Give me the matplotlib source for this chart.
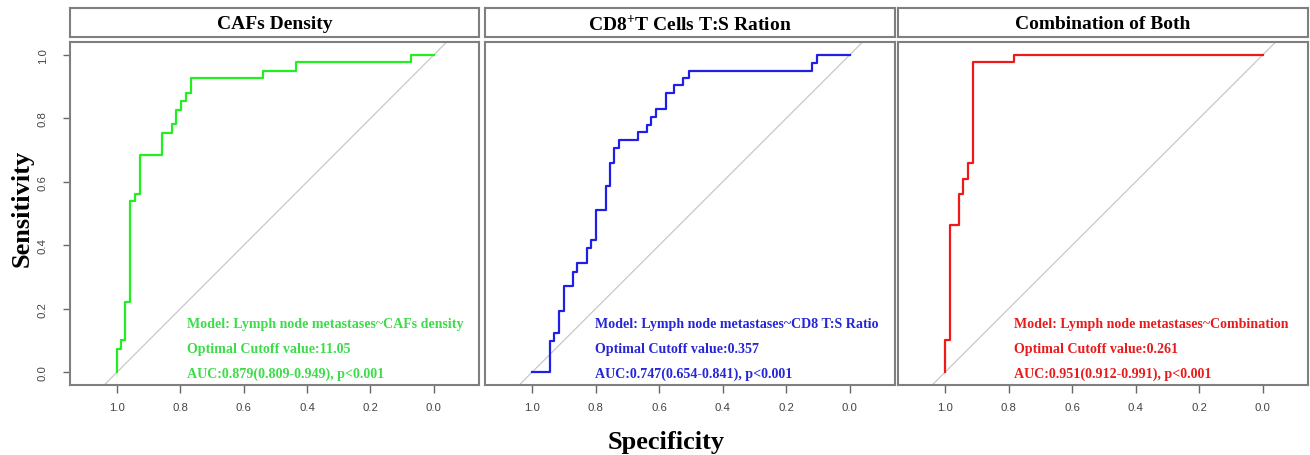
import numpy as np
import matplotlib
matplotlib.use('Agg')
import matplotlib.pyplot as plt

plt.rcParams['mathtext.fontset'] = 'custom'
plt.rcParams['mathtext.rm'] = 'Liberation Serif'
plt.rcParams['mathtext.bf'] = 'Liberation Serif:bold'

# ROC curves (specificity, sensitivity), step corners
caf_spec = [1.0, 0.988, 0.974, 0.96, 0.944, 0.928, 0.859, 0.828, 0.814, 0.799,
            0.784, 0.768, 0.538, 0.436, 0.073, 0.0]
caf_sens = [0.0, 0.073, 0.10, 0.22, 0.538, 0.562, 0.685, 0.755, 0.781, 0.828,
            0.855, 0.879, 0.926, 0.95, 0.977, 1.0]

cd8_spec = [1.0, 0.945, 0.93, 0.916, 0.901, 0.873, 0.858, 0.828, 0.814, 0.80,
            0.769, 0.756, 0.741, 0.727, 0.668, 0.64, 0.625, 0.611, 0.58, 0.553,
            0.524, 0.507, 0.118, 0.103, 0.0]
cd8_sens = [0.0, 0.0, 0.098, 0.124, 0.194, 0.27, 0.317, 0.343, 0.39, 0.416,
            0.512, 0.587, 0.66, 0.707, 0.733, 0.756, 0.78, 0.805, 0.829, 0.879,
            0.905, 0.928, 0.95, 0.976, 1.0]

comb_spec = [1.0, 0.986, 0.958, 0.944, 0.929, 0.914, 0.785, 0.0]
comb_sens = [0.0, 0.10, 0.465, 0.562, 0.61, 0.66, 0.977, 1.0]

titles = ['CAFs Density', r'CD8$^{\mathbf{+}}$T Cells T:S Ration', 'Combination of Both']
models = ['Model: Lymph node metastases~CAFs density',
          'Model: Lymph node metastases~CD8 T:S Ratio',
          'Model: Lymph node metastases~Combination']
cutoffs = ['Optimal Cutoff value:11.05', 'Optimal Cutoff value:0.357',
           'Optimal Cutoff value:0.261']
aucs = ['AUC:0.879(0.809-0.949), p<0.001', 'AUC:0.747(0.654-0.841), p<0.001',
        'AUC:0.951(0.912-0.991), p<0.001']
line_colors = ['#22ee22', '#1f1fe6', '#ee1a1a']
text_colors = ['#3ddc4a', '#2626d6', '#e81c1c']
text_x = [0.778, 0.803, 0.783]

curves = [(caf_spec, caf_sens), (cd8_spec, cd8_sens), (comb_spec, comb_sens)]

W, H = 1310, 456
fig = plt.figure(figsize=(W / 100, H / 100), dpi=100, facecolor='white')

panel_x = [(70, 479), (485, 895), (898, 1308)]
ax_top, ax_bot = 43, 386
box_top, box_bot = 9, 38
spine_col = '#7f7f7f'

for k, (x0, x1) in enumerate(panel_x):
    ax = fig.add_axes([x0 / W, 1 - ax_bot / H, (x1 - x0) / W, (ax_bot - ax_top) / H])
    spec, sens = curves[k]
    ax.axline((1, 0), (0, 1), color='#c8c8c8', lw=0.9, zorder=1)
    ax.plot(spec, sens, drawstyle='steps-pre', color=line_colors[k], lw=1.6, zorder=3)
    ax.set_xlim(1.149, -0.143)
    ax.set_ylim(-0.041, 1.041)
    ax.set_xticks(np.arange(0, 1.01, 0.2))
    ax.set_xticklabels(['%.1f' % v for v in np.arange(0, 1.01, 0.2)],
                       family='Liberation Sans', fontsize=8.2, color='#444444')
    ax.tick_params(axis='x', length=6, width=1, color='#666666', pad=6)
    if k == 0:
        ax.set_yticks(np.arange(0, 1.01, 0.2))
        ax.set_yticklabels(['%.1f' % v for v in np.arange(0, 1.01, 0.2)],
                           family='Liberation Sans', fontsize=8.2, color='#444444',
                           rotation=90, va='center')
        ax.tick_params(axis='y', length=5, width=1, color='#666666', pad=11)
    else:
        ax.set_yticks([])
    for sp in ax.spines.values():
        sp.set_color(spine_col)
        sp.set_linewidth(1.5)

    for txt, yy in zip([models[k], cutoffs[k], aucs[k]], [0.142, 0.063, -0.016]):
        ax.text(text_x[k], yy, txt, color=text_colors[k], family='Liberation Serif',
                weight='bold', fontsize=10.1, ha='left', va='baseline', zorder=4)

    tb = fig.add_axes([x0 / W, 1 - box_bot / H, (x1 - x0) / W, (box_bot - box_top) / H])
    tb.set_xticks([])
    tb.set_yticks([])
    for sp in tb.spines.values():
        sp.set_color(spine_col)
        sp.set_linewidth(1.5)
    tb.text(0.5, 0.45, titles[k], ha='center', va='center', family='Liberation Serif',
            weight='bold', fontsize=14, transform=tb.transAxes)

fig.text(22 / W, 1 - 208 / H, 'Sensitivity', rotation=90, ha='center', va='center',
         family='Liberation Serif', weight='bold', fontsize=19)
fig.text(666 / W, 1 - 443 / H, 'Specificity', ha='center', va='center',
         family='Liberation Serif', weight='bold', fontsize=19)

fig.savefig('out.png', dpi=100, facecolor='white')
